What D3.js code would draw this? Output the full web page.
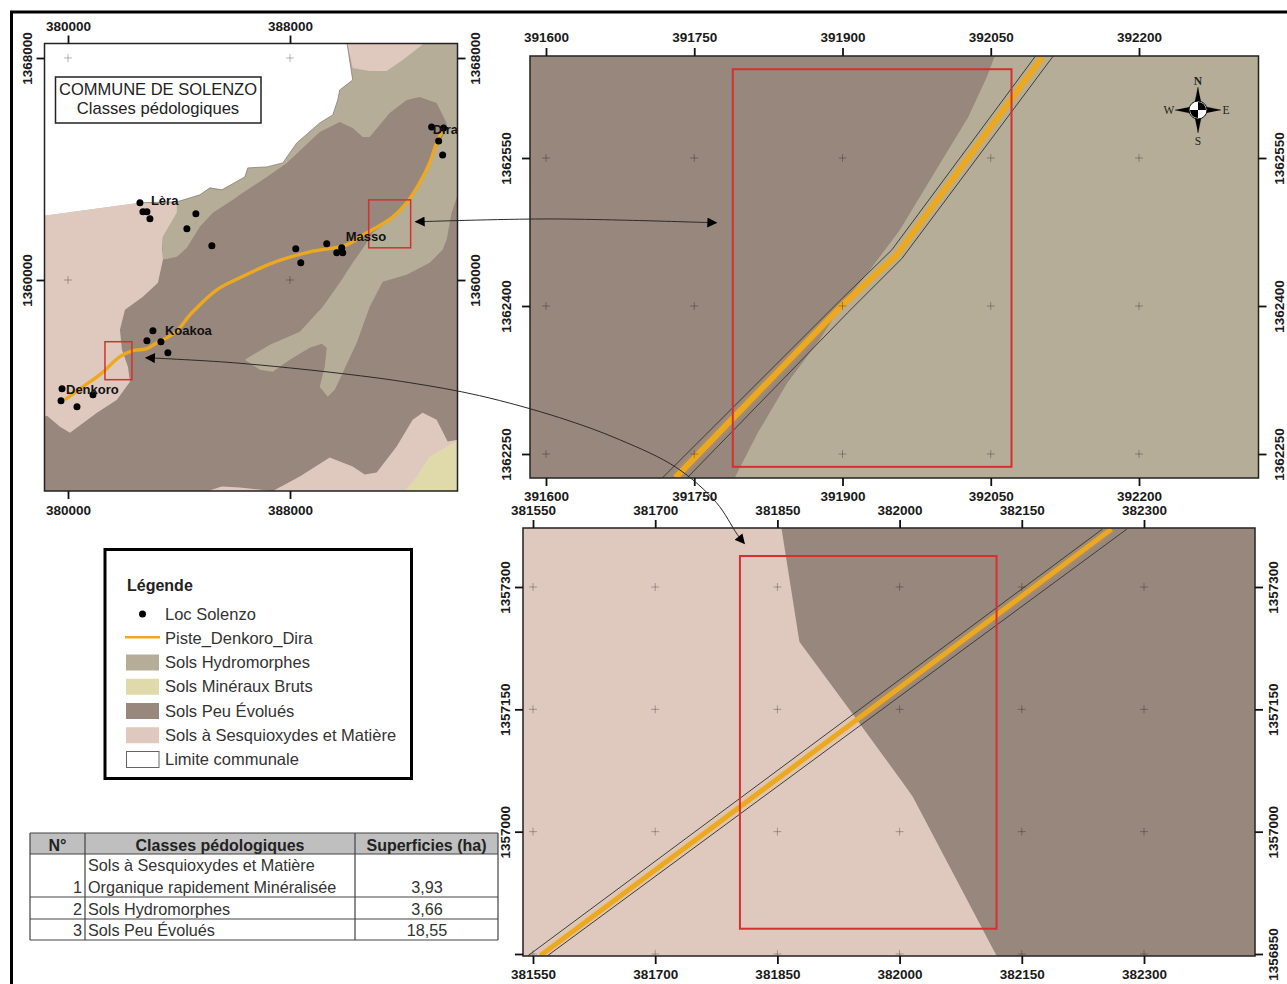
<!DOCTYPE html>
<html>
<head>
<meta charset="utf-8">
<script src="https://cdn.jsdelivr.net/npm/d3@7"></script>
<style>
	html, body { margin: 0; padding: 0; background: #fff; overflow: hidden; }
	svg { display: block; font-family: "Liberation Sans", Arial, sans-serif; }
	.tick_label { font-size: 13.5px; font-weight: bold; fill: #1a1a1a; }
	.loc_label { font-size: 13px; font-weight: bold; fill: #111; }
</style>
</head>
<body>
<div id="chart"></div>
<script>
// colours of the soil classes
const col_hydro = "#b6ad98";
const col_mineral = "#e0d9a9";
const col_peu = "#98877c";
const col_sesqui = "#dfc9bf";
const col_road = "#eca920";
const col_red = "#d5302f";

// commune overview map, all in projected metres (east, north)
const outside_limit = [[379100,1368600],[390044,1368600],[390260,1367208],[389792,1366848],[389720,1366488],[389540,1365948],[389072,1365660],[388244,1364940],[387740,1364220],[387164,1364076],[386480,1364040],[386372,1363716],[385544,1363248],[385112,1363320],[384752,1363068],[383924,1362816],[382592,1362780],[379100,1362312]];
const hydro_area = [[390044,1368600],[394100,1368600],[394100,1363248],[393824,1362420],[393644,1361448],[393500,1361088],[393032,1360620],[392204,1360188],[391340,1359936],[390872,1359036],[390404,1357740],[389900,1356660],[389612,1356048],[389360,1355796],[389072,1356156],[389252,1356876],[389324,1357560],[389144,1357704],[388712,1357560],[387992,1357128],[387380,1356696],[386912,1356768],[386372,1357128],[387272,1357668],[388352,1358136],[389180,1359036],[389792,1359900],[390260,1360620],[390764,1361340],[383384,1360728],[383420,1361556],[383924,1362420],[383924,1362816],[383924,1366488]];
const peu_area = [[383420,1360728],[383924,1360836],[384284,1361160],[384752,1361916],[385220,1362420],[385940,1362888],[386300,1363140],[387164,1363716],[387884,1364220],[389072,1365336],[389792,1365696],[390260,1365480],[390620,1365156],[390872,1365156],[391592,1366020],[392204,1366488],[392672,1366596],[393284,1366380],[393644,1365660],[393572,1365300],[393032,1364328],[392564,1363248],[392024,1362528],[391484,1362060],[390980,1361700],[390764,1361340],[388000,1360000],[384000,1360400]];
const sesqui_west = [[379100,1362312],[382592,1362780],[383924,1362816],[383924,1362420],[383420,1361556],[383384,1361088],[383420,1360728],[383240,1359900],[382700,1359396],[382052,1358928],[381872,1358208],[381944,1357488],[382160,1356876],[382232,1356336],[381764,1355688],[381044,1355220],[380072,1354500],[379712,1354716],[379244,1355112],[379100,1355076]];
const sesqui_south = [[385040,1352400],[385544,1352556],[386192,1352520],[387380,1352400],[388352,1352916],[389432,1353600],[390260,1353276],[390692,1352988],[391124,1353060],[391844,1353996],[392420,1354968],[392780,1355220],[393284,1354968],[393680,1354176],[394100,1354248],[394100,1352400]];
const sesqui_north = [[390044,1368600],[390260,1367640],[390872,1367532],[391484,1367532],[392060,1367928],[392924,1368600]];
const mineral_area = [[394100,1354248],[393032,1353636],[392564,1352916],[392132,1352400],[394100,1352400]];
const road_line = [[379892,1355688],[380540,1356156],[381152,1356588],[381872,1357236],[382340,1357452],[382844,1357524],[383204,1357740],[383852,1358100],[384464,1358820],[385364,1359648],[386192,1360080],[387380,1360620],[388712,1361016],[390044,1361268],[390764,1361700],[391664,1362240],[392204,1362780],[392672,1363500],[393032,1364220],[393284,1364940],[393464,1365336]];
const localities = [[382592,1362780],[382700,1362456],[382844,1362456],[382952,1362204],[384608,1362384],[384284,1361844],[385184,1361232],[388208,1361124],[388388,1360620],[389324,1361304],[389864,1361160],[389684,1360980],[389900,1360980],[393104,1365516],[393536,1365480],[393356,1365012],[393500,1364508],[383060,1358172],[382844,1357812],[383348,1357776],[383600,1357380],[379784,1356084],[379748,1355652],[380324,1355436],[380900,1355868]];
const place_names = ["Lèra", "Dira", "Masso", "Koakoa", "Denkoro"];
const place_coords = [[382988,1362708],[393140,1365264],[390008,1361412],[383492,1358028],[379928,1355904]];
const zoom_boxes = [[390836,1362888,392348,1361160],[381332,1357776,382304,1356408]];
const main_x_ticks = [380000, 388000];
const main_y_ticks = [1368000, 1360000];

// north east zoom
const ne_peu = [[391584,1362653],[392054,1362653],[392046,1362632],[392027,1362591],[391999,1362545],[391958,1362477],[391925,1362433],[391898,1362399],[391877,1362366],[391844,1362322],[391814,1362271],[391791,1362226],[391584,1362226]];
const ne_road = [[391731,1362226],[391898,1362399],[391955,1362452],[392102,1362652]];
const ne_buffer_a = [[391718,1362226],[391900,1362408],[391950,1362457],[392095,1362653]];
const ne_buffer_b = [[391743,1362226],[391905,1362393],[391960,1362448],[392113,1362653]];
const ne_box = [391789,1362640,392071,1362237];
const ne_x_ticks = [391600, 391750, 391900, 392050, 392200];
const ne_y_ticks = [1362550, 1362400, 1362250];

// south west zoom
const sw_peu = [[381855,1357372],[381877,1357233],[381942,1357145],[382004,1357060],[382016,1357043],[382119,1356848],[382436,1356848],[382436,1357372]];
const sw_road = [[381559,1356848],[381947,1357137],[382260,1357371]];
const sw_buffer_a = [[381544,1356848],[382249,1357371]];
const sw_buffer_b = [[381568,1356848],[382279,1357371]];
const sw_box = [381804,1357338,382119,1356881];
const sw_x_ticks = [381550, 381700, 381850, 382000, 382150, 382300];
const sw_y_ticks = [1357300, 1357150, 1357000, 1356850];

// leader arrows, also in the metres of the overview map
const arrow_ne = [[392528,1362096],[397352,1362200],[403364,1362060]];
const arrow_sw = [[382808,1357200],[385940,1357020],[389900,1356624],[392312,1356300],[394832,1355832],[397712,1355040],[399872,1354248],[401924,1353240],[403364,1351980],[404120,1350828],[404372,1350504]];

// legend and table
const legend_labels = ["Loc Solenzo", "Piste_Denkoro_Dira", "Sols Hydromorphes", "Sols Minéraux Bruts", "Sols Peu Évolués", "Sols à Sesquioxydes et Matière", "Limite communale"];
const legend_kinds = ["dot", "line", col_hydro, col_mineral, col_peu, col_sesqui, "limit"];
const table_head = ["N°", "Classes pédologiques", "Superficies (ha)"];
const table_num = [1, 2, 3];
const table_class = [["Sols à Sesquioxydes et Matière", "Organique rapidement Minéralisée"], ["Sols Hydromorphes"], ["Sols Peu Évolués"]];
const table_area = ["3,93", "3,66", "18,55"];

const svg = d3.select("#chart").append("svg").attr("width", 1287).attr("height", 984);
const defs = svg.append("defs");
const path_of = (x, y) => d3.line().x((d) => x(d[0])).y((d) => y(d[1]));

// one map frame: scales, axes, grid crosses, then whatever draw() puts inside
function map_panel(opts) {
	const f = opts.frame;
	const x = d3.scaleLinear().domain(opts.x_domain).range(opts.x_range);
	const y = d3.scaleLinear().domain(opts.y_domain).range(opts.y_range);
	defs.append("clipPath").attr("id", opts.id).append("rect")
		.attr("x", f.x0).attr("y", f.y0).attr("width", f.x1 - f.x0).attr("height", f.y1 - f.y0);

	const g = svg.append("g").attr("clip-path", `url(#${opts.id})`);
	g.append("rect").attr("x", f.x0).attr("y", f.y0).attr("width", f.x1 - f.x0).attr("height", f.y1 - f.y0)
		.attr("fill", opts.ground);
	opts.draw(g, x, y);

	// the grid crosses
	opts.x_ticks.forEach((a) => opts.y_ticks.forEach((b) => {
		g.append("path").attr("d", `M${x(a) - 4},${y(b)}h8M${x(a)},${y(b) - 4}v8`)
			.attr("stroke", "#000").attr("stroke-opacity", 0.35).attr("stroke-width", 0.8).attr("fill", "none");
	}));
	if (opts.after) opts.after(g, x, y);

	svg.append("rect").attr("x", f.x0).attr("y", f.y0).attr("width", f.x1 - f.x0).attr("height", f.y1 - f.y0)
		.attr("fill", "none").attr("stroke", "#222").attr("stroke-width", 1.5);

	const fmt = d3.format("d");
	const axis_style = (sel) => {
		sel.select(".domain").remove();
		sel.selectAll("line").attr("stroke", "#111").attr("stroke-width", 1.8);
		sel.selectAll("text").attr("class", "tick_label");
	};
	svg.append("g").attr("transform", `translate(0,${f.y0})`)
		.call(d3.axisTop(x).tickValues(opts.x_ticks).tickSize(8).tickPadding(opts.off.top - 8).tickFormat(fmt)).call(axis_style);
	svg.append("g").attr("transform", `translate(0,${f.y1})`)
		.call(d3.axisBottom(x).tickValues(opts.x_ticks).tickSize(8).tickFormat(fmt)).call(axis_style)
		.selectAll("text").attr("y", opts.off.bottom).attr("dy", 0);

	const left_fmt = (d) => (opts.left_skip === d ? "" : fmt(d));
	svg.append("g").attr("transform", `translate(${f.x0},0)`)
		.call(d3.axisLeft(y).tickValues(opts.y_ticks).tickSize(8).tickFormat(left_fmt)).call(axis_style)
		.selectAll("text").attr("transform", "rotate(-90)")
		.attr("text-anchor", "middle").attr("x", 0).attr("dy", 0).attr("y", -opts.off.left);
	svg.append("g").attr("transform", `translate(${f.x1},0)`)
		.call(d3.axisRight(y).tickValues(opts.y_ticks).tickSize(8).tickFormat(fmt)).call(axis_style)
		.selectAll("text").attr("transform", "rotate(-90)")
		.attr("text-anchor", "middle").attr("x", 0).attr("dy", 0).attr("y", opts.off.right);
	return {x, y};
}

function zoom_road(g, line, road, buf_a, buf_b, w) {
	g.append("path").attr("d", line(road)).attr("fill", "none").attr("stroke", col_road)
		.attr("stroke-opacity", 0.12).attr("stroke-width", w + 5);
	g.append("path").attr("d", line(road)).attr("fill", "none").attr("stroke", col_road).attr("stroke-width", w);
	[buf_a, buf_b].forEach((b) => g.append("path").attr("d", line(b)).attr("fill", "none")
		.attr("stroke", "#3d3d38").attr("stroke-width", 1));
}

function red_box(g, x, y, b, w) {
	g.append("rect").attr("x", x(b[0])).attr("y", y(b[1]))
		.attr("width", x(b[2]) - x(b[0])).attr("height", y(b[3]) - y(b[1]))
		.attr("fill", "none").attr("stroke", col_red).attr("stroke-width", w);
}

const main_map = map_panel({
	id: "clip_main",
	frame: {x0: 44.5, x1: 457.5, y0: 43.5, y1: 491},
	x_domain: [380000, 388000], x_range: [68, 290],
	y_domain: [1368000, 1360000], y_range: [58, 280],
	x_ticks: main_x_ticks, y_ticks: main_y_ticks,
	off: {top: 13, bottom: 24, left: 13, right: 22},
	ground: col_peu,
	draw: (g, x, y) => {
		const poly = (pts, fill) => g.append("path").attr("d", path_of(x, y)(pts) + "Z").attr("fill", fill);
		poly(hydro_area, col_hydro);
		poly(peu_area, col_peu);
		poly(sesqui_west, col_sesqui);
		poly(sesqui_south, col_sesqui);
		poly(sesqui_north, col_sesqui);
		poly(mineral_area, col_mineral);
		poly(outside_limit, "#fff");
		g.append("path").attr("d", path_of(x, y)(outside_limit.slice(1, -1))).attr("fill", "none")
			.attr("stroke", "#7d766a").attr("stroke-width", 0.7);
	},
	after: (g, x, y) => {
		g.append("path").attr("d", path_of(x, y).curve(d3.curveCatmullRom.alpha(0.5))(road_line))
			.attr("fill", "none").attr("stroke", col_road).attr("stroke-width", 3.4);
		zoom_boxes.forEach((b) => red_box(g, x, y, b, 1.5));
		g.selectAll(".loc").data(localities).enter().append("circle").attr("class", "loc")
			.attr("cx", (d) => x(d[0])).attr("cy", (d) => y(d[1])).attr("r", 3.5).attr("fill", "#000");
		g.selectAll(".loc_label").data(place_names).enter().append("text").attr("class", "loc_label")
			.attr("x", (d, i) => x(place_coords[i][0])).attr("y", (d, i) => y(place_coords[i][1]))
			.text((d) => d);
	}
});

map_panel({
	id: "clip_ne",
	frame: {x0: 530, x1: 1258.5, y0: 56, y1: 478},
	x_domain: [391600, 392200], x_range: [546, 1139],
	y_domain: [1362550, 1362250], y_range: [158, 454],
	x_ticks: ne_x_ticks, y_ticks: ne_y_ticks,
	off: {top: 14, bottom: 23, left: 19, right: 25},
	ground: col_hydro,
	draw: (g, x, y) => {
		const line = path_of(x, y);
		g.append("path").attr("d", line(ne_peu) + "Z").attr("fill", col_peu);
		zoom_road(g, line, ne_road, ne_buffer_a, ne_buffer_b, 6);
	},
	after: (g, x, y) => red_box(g, x, y, ne_box, 2)
});

map_panel({
	id: "clip_sw",
	frame: {x0: 523, x1: 1255, y0: 528, y1: 956},
	x_domain: [381550, 382300], x_range: [533, 1144],
	y_domain: [1357300, 1356850], y_range: [587, 954],
	x_ticks: sw_x_ticks, y_ticks: sw_y_ticks,
	off: {top: 13, bottom: 23, left: 13, right: 23},
	left_skip: 1356850,
	ground: col_sesqui,
	draw: (g, x, y) => {
		const line = path_of(x, y);
		g.append("path").attr("d", line(sw_peu) + "Z").attr("fill", col_peu);
		zoom_road(g, line, sw_road, sw_buffer_a, sw_buffer_b, 5);
	},
	after: (g, x, y) => red_box(g, x, y, sw_box, 2)
});

// title box on the overview map
svg.append("rect").attr("x", 55.5).attr("y", 77).attr("width", 205.5).attr("height", 46)
	.attr("fill", "#fff").attr("stroke", "#222").attr("stroke-width", 1.5);
svg.append("text").attr("x", 158).attr("y", 95).attr("text-anchor", "middle").attr("font-size", 16.5).attr("fill", "#222").text("COMMUNE DE SOLENZO");
svg.append("text").attr("x", 158).attr("y", 114).attr("text-anchor", "middle").attr("font-size", 16.6).attr("fill", "#222").text("Classes pédologiques");

// north arrow
const compass = svg.append("g").attr("transform", "translate(1198,110)");
[0, 90, 180, 270].forEach((a) => {
	const p = compass.append("g").attr("transform", `rotate(${a})`);
	p.append("path").attr("d", "M0,-23L3.5,-6L0,-6Z").attr("fill", "#000");
	p.append("path").attr("d", "M0,-23L-3.5,-6L0,-6Z").attr("fill", "#000").attr("stroke", "#000").attr("stroke-width", 0.3);
});
compass.append("circle").attr("r", 9).attr("fill", "#fff").attr("stroke", "#111").attr("stroke-width", 1);
compass.append("path").attr("d", "M0,0V-8A8,8 0 0 1 8,0ZM0,0V8A8,8 0 0 1 -8,0Z").attr("fill", "#000");
const compass_letters = ["N", "S", "W", "E"];
const compass_at = [[0, -25], [0, 35], [-29, 4], [28, 4]];
compass.selectAll("text").data(compass_letters).enter().append("text")
	.attr("x", (d, i) => compass_at[i][0]).attr("y", (d, i) => compass_at[i][1])
	.attr("text-anchor", "middle").attr("font-family", "Liberation Serif").attr("font-size", 11.5)
	.attr("font-weight", (d) => (d === "N" ? "bold" : "normal")).attr("fill", "#222").text((d) => d);

// legend
const legend = svg.append("g");
legend.append("rect").attr("x", 105).attr("y", 549.5).attr("width", 306.5).attr("height", 229)
	.attr("fill", "#fff").attr("stroke", "#000").attr("stroke-width", 3);
legend.append("text").attr("x", 127).attr("y", 590.5).attr("font-size", 16).attr("font-weight", "bold").attr("fill", "#222").text("Légende");
const row_y = d3.scalePoint().domain(legend_labels).range([614, 759.5]);
legend_labels.forEach((label, i) => {
	const yy = row_y(label), kind = legend_kinds[i];
	if (kind === "dot") {
		legend.append("circle").attr("cx", 142.5).attr("cy", yy).attr("r", 3.5).attr("fill", "#000");
	} else if (kind === "line") {
		legend.append("line").attr("x1", 125).attr("x2", 160).attr("y1", yy - 1).attr("y2", yy - 1)
			.attr("stroke", col_road).attr("stroke-width", 2.6);
	} else if (kind === "limit") {
		legend.append("rect").attr("x", 126.5).attr("y", yy - 8).attr("width", 32.5).attr("height", 16)
			.attr("fill", "#fff").attr("stroke", "#666").attr("stroke-width", 1);
	} else {
		legend.append("rect").attr("x", 126).attr("y", yy - 8).attr("width", 33).attr("height", 16).attr("fill", kind);
	}
	legend.append("text").attr("x", 165).attr("y", yy + 5.5).attr("font-size", 16.5).attr("fill", "#333").text(label);
});

// table
const table = svg.append("g");
const col_edges = [30, 85, 355, 498];
const row_edges = [833, 854, 897, 919, 940];
table.append("rect").attr("x", col_edges[0]).attr("y", row_edges[0]).attr("width", col_edges[3] - col_edges[0])
	.attr("height", row_edges[1] - row_edges[0]).attr("fill", "#bfbfbf");
row_edges.forEach((yy) => table.append("line").attr("x1", col_edges[0]).attr("x2", col_edges[3])
	.attr("y1", yy).attr("y2", yy).attr("stroke", "#444").attr("stroke-width", 1.2));
col_edges.forEach((xx) => table.append("line").attr("x1", xx).attr("x2", xx)
	.attr("y1", row_edges[0]).attr("y2", row_edges[4]).attr("stroke", "#444").attr("stroke-width", 1.2));
table_head.forEach((h, i) => table.append("text").attr("x", (col_edges[i] + col_edges[i + 1]) / 2).attr("y", 850.5)
	.attr("text-anchor", "middle").attr("font-size", 16).attr("font-weight", "bold").attr("fill", "#222").text(h));
table_num.forEach((n, i) => {
	const base = row_edges[i + 2] - 4.5;
	table.append("text").attr("x", 82).attr("y", base).attr("text-anchor", "end").attr("font-size", 16.2).attr("fill", "#333").text(n);
	table_class[i].forEach((t, k) => table.append("text").attr("x", 88)
		.attr("y", base - (table_class[i].length - 1 - k) * 21.5).attr("font-size", 16.2).attr("fill", "#333").text(t));
	table.append("text").attr("x", 427).attr("y", base).attr("text-anchor", "middle").attr("font-size", 16.2).attr("fill", "#333").text(table_area[i]);
});

// outer neat line
svg.append("path").attr("d", "M1287,12H11.5V984").attr("fill", "none").attr("stroke", "#000").attr("stroke-width", 3);

// leader arrows go over everything
const marker = defs.append("marker").attr("id", "head").attr("viewBox", "0 0 10 10").attr("refX", 9).attr("refY", 5)
	.attr("markerWidth", 11).attr("markerHeight", 10).attr("markerUnits", "userSpaceOnUse").attr("orient", "auto-start-reverse");
marker.append("path").attr("d", "M0,0L10,5L0,10Z").attr("fill", "#000");
const arrow_line = path_of(main_map.x, main_map.y).curve(d3.curveCatmullRom.alpha(0.5));
[arrow_ne, arrow_sw].forEach((a) => svg.append("path").attr("d", arrow_line(a)).attr("fill", "none")
	.attr("stroke", "#2a2a2a").attr("stroke-width", 1)
	.attr("marker-start", "url(#head)").attr("marker-end", "url(#head)"));
</script>
</body>
</html>
